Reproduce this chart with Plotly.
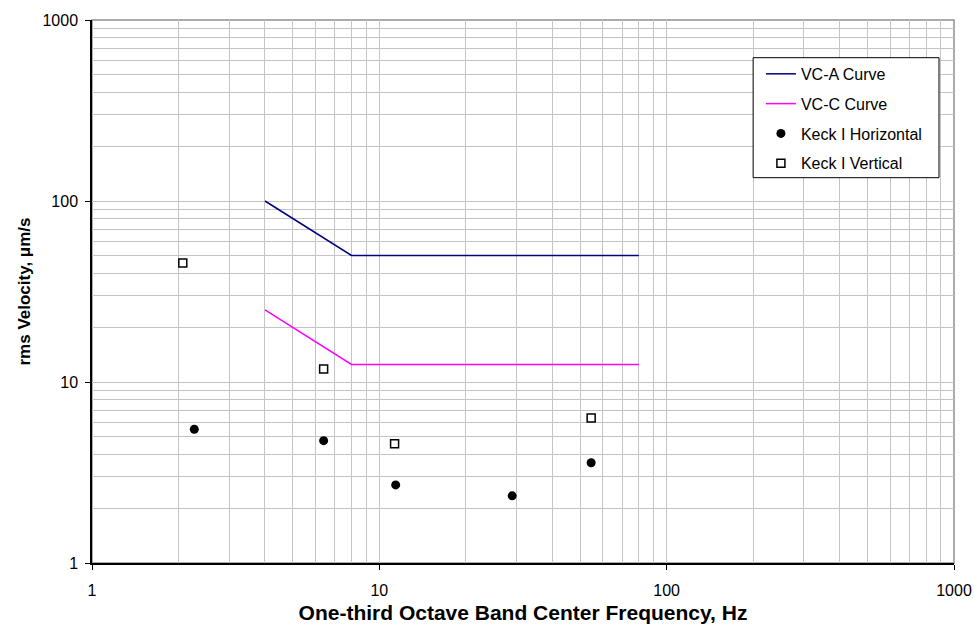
import plotly.graph_objects as go

vca_x = [4, 8, 80]
vca_y = [100, 50, 50]
vcc_x = [4, 8, 80]
vcc_y = [25, 12.5, 12.5]
horiz_x = [2.27, 6.4, 11.4, 29.0, 54.6]
horiz_y = [5.48, 4.74, 2.70, 2.35, 3.58]
vert_x = [2.07, 6.4, 11.3, 54.6]
vert_y = [45.4, 11.8, 4.56, 6.33]
tick_vals = [1, 10, 100, 1000]
tick_text = ["1", "10", "100", "1000"]

minor_vals = [m * d for d in (1, 10, 100) for m in range(2, 10)]

FONT = "Liberation Sans, Arial, sans-serif"
GRID = "#c4c4c4"

fig = go.Figure()
fig.add_trace(go.Scatter(x=vca_x, y=vca_y, mode="lines", name="VC-A Curve",
                         line=dict(color="#000080", width=1.5), legendgroup="a"))
fig.add_trace(go.Scatter(x=vcc_x, y=vcc_y, mode="lines", name="VC-C Curve",
                         line=dict(color="#FF00FF", width=1.5), legendgroup="c"))
fig.add_trace(go.Scatter(x=horiz_x, y=horiz_y, mode="markers", name="Keck I Horizontal",
                         marker=dict(symbol="circle", size=9, color="black"), legendgroup="h"))
fig.add_trace(go.Scatter(x=vert_x, y=vert_y, mode="markers", name="Keck I Vertical",
                         marker=dict(symbol="square", size=8, color="white",
                                     line=dict(color="black", width=1.5)), legendgroup="v"))

axis_common = dict(
    type="log", range=[0, 3], tickvals=tick_vals, ticktext=tick_text,
    showgrid=True, gridcolor=GRID, gridwidth=1,
    minor=dict(showgrid=True, gridcolor=GRID, gridwidth=1, tickvals=minor_vals, ticks=""),
    showline=True, linecolor="black", linewidth=1.5,
    ticks="outside", ticklen=5, tickcolor="black",
    tickfont=dict(family=FONT, size=16, color="black"),
    zeroline=False, automargin=False, ticklabeloverflow="allow",
)

fig.update_xaxes(**axis_common, ticklabelstandoff=7,
                 title=dict(text="One-third Octave Band Center Frequency, Hz",
                            font=dict(family=FONT, size=21, color="black", weight="bold"),
                            standoff=7))
fig.update_yaxes(**axis_common, ticklabelstandoff=4,
                 title=dict(text="rms Velocity, μm/s",
                            font=dict(family=FONT, size=17, color="black", weight="bold"),
                            standoff=8))

fig.add_shape(type="rect", xref="paper", yref="paper", x0=0, y0=0, x1=1, y1=1,
              line=dict(color="#909090", width=1.5), layer="below")
# legend frame
fig.add_shape(type="rect", xref="paper", yref="paper", x0=0.767, x1=0.9826,
              y0=0.7096, y1=0.9306, line=dict(color="black", width=1),
              fillcolor="white", layer="above")

fig.update_layout(
    width=974, height=633,
    margin=dict(l=92, r=20, t=20, b=70),
    paper_bgcolor="white", plot_bgcolor="white",
    font=dict(family=FONT, size=16, color="black"),
    legend=dict(x=0.776, y=0.932, xanchor="left", yanchor="top",
                bgcolor="rgba(0,0,0,0)", borderwidth=0,
                font=dict(family=FONT, size=16, color="black"),
                tracegroupgap=6),
    showlegend=True,
)

fig.write_html("out.html", config={"displayModeBar": False},
               post_script="document.body.style.margin='0';document.body.style.overflow='hidden';")
